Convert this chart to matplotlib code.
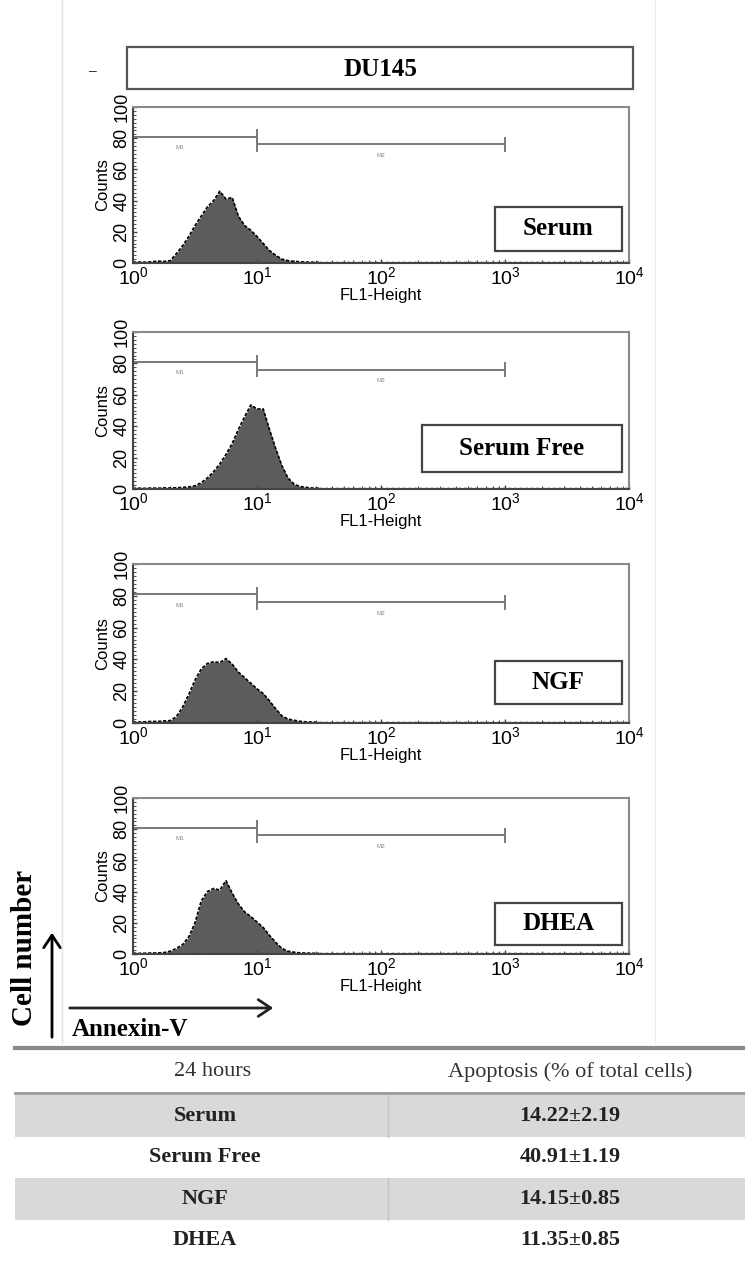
import numpy as np
import matplotlib
matplotlib.use("Agg")
import matplotlib.pyplot as plt
from matplotlib.ticker import FixedLocator, LogFormatterMathtext, MultipleLocator, LogLocator
from matplotlib.patches import Rectangle, FancyArrowPatch

plt.rcParams['font.family'] = ['Liberation Sans', 'DejaVu Sans']
plt.rcParams['mathtext.fontset'] = 'custom'
plt.rcParams['mathtext.rm'] = 'Liberation Sans'
plt.rcParams['mathtext.it'] = 'Liberation Sans'
plt.rcParams['mathtext.default'] = 'regular'

# ---------------- data ----------------
cell_line = "DU145"
conditions = ["Serum", "Serum Free", "NGF", "DHEA"]

# log10(FL1-Height) channel positions
log_fl1 = [0.00, 0.05, 0.10, 0.15, 0.20, 0.25, 0.30, 0.35, 0.40, 0.45,
           0.50, 0.55, 0.60, 0.65, 0.70, 0.75, 0.80, 0.85, 0.90, 0.95,
           1.00, 1.05, 1.10, 1.15, 1.20, 1.25, 1.30, 1.35, 1.40, 1.45, 1.50]

counts_serum = [0.5, 0.6, 0.5, 0.8, 1.2, 1.0, 1.5, 6, 11, 17,
                24, 30, 36, 40, 46, 41, 42, 30, 24, 21,
                17, 12.5, 8, 5, 2.5, 1.5, 1.0, 0.8, 0.6, 0.5, 0.4]
counts_serum_free = [0.4, 0.5, 0.4, 0.6, 0.5, 0.7, 0.6, 0.8, 1.0, 1.3,
                     2, 4, 7, 11, 16, 22, 29, 38, 46, 53.5,
                     51, 51, 38, 26, 15, 7, 3, 1.5, 1.0, 0.6, 0.5]
counts_ngf = [0.5, 0.6, 0.8, 1.0, 1.0, 1.3, 1.5, 4, 10, 18,
              27, 34, 37.5, 38.5, 38, 40.5, 37, 32, 28.5, 25,
              21.5, 18.5, 14, 9, 4.5, 2.5, 1.7, 1.0, 0.7, 0.6, 0.5]
counts_dhea = [0.5, 0.4, 0.5, 0.6, 0.7, 0.9, 1.8, 3.6, 6, 11,
               20, 34, 40, 42, 41, 47, 39, 32, 27, 24,
               20.5, 17, 12, 7.5, 3.6, 1.8, 1.1, 0.7, 0.6, 0.5, 0.4]
all_counts = [counts_serum, counts_serum_free, counts_ngf, counts_dhea]
tail_level = 0.4

# marker gates (start, end, count level)
gate_m1 = (1, 10, 81)
gate_m2 = (10, 1000, 76)

y_ticks = [0, 20, 40, 60, 80, 100]
x_ticks = [1, 10, 100, 1000, 10000]

table_header = ["24 hours", "Apoptosis (% of total cells)"]
table_rows = ["Serum", "Serum Free", "NGF", "DHEA"]
table_values = ["14.22\u00b12.19", "40.91\u00b11.19", "14.15\u00b10.85", "11.35\u00b10.85"]

# ---------------- layout ----------------
W, H = 745, 1273
fig = plt.figure(figsize=(W / 100, H / 100), dpi=100)

def px_axes(x0, y0, x1, y1, **kw):
    return fig.add_axes([x0 / W, 1 - y1 / H, (x1 - x0) / W, (y1 - y0) / H], **kw)

bg = fig.add_axes([0, 0, 1, 1])
bg.set_xlim(0, W)
bg.set_ylim(H, 0)
bg.axis('off')

# faint image border
bg.plot([62, 62], [0, 1043], color='#e2e2e2', lw=1)
bg.plot([655, 655], [0, 1043], color='#ececec', lw=1)

# DU145 header box
bg.add_patch(Rectangle((127, 47), 506, 42, fill=False, ec='#555555', lw=1.6))
bg.text(380, 69, cell_line, ha='center', va='center', fontsize=18,
        fontweight='bold', family='Liberation Serif')
bg.text(93, 71, '\u2013', ha='center', va='center', fontsize=10, color='#333')

panel_tops = [107, 332, 564, 798]
panel_bots = [263, 489, 723, 954]
label_boxes = [(0.73, 0.08, 0.255, 0.28), (0.582, 0.11, 0.403, 0.30),
               (0.73, 0.12, 0.255, 0.27), (0.73, 0.06, 0.255, 0.27)]

for i, cond in enumerate(conditions):
    ax = px_axes(133, panel_tops[i], 629, panel_bots[i])
    ax.set_xscale('log')
    ax.set_xlim(1, 10000)
    ax.set_ylim(0, 100)
    x = [10 ** v for v in log_fl1]
    y = all_counts[i]
    ax.fill_between(x, y, 0, color='#5c5c5c', lw=0)
    ax.plot(x, y, color='black', lw=1.2, ls=(0, (2, 1)))
    ax.plot([x[-1], 10000], [tail_level, tail_level], color='black', lw=1.0, ls=(0, (2, 2)))

    for (g0, g1, gy), lab in [(gate_m1, 'M1'), (gate_m2, 'M2')]:
        ax.plot([g0, g1], [gy, gy], color='#7a7a7a', lw=1.4)
        ax.plot([g0, g0], [gy - 4, gy + 4], color='#7a7a7a', lw=1.4)
        ax.plot([g1, g1], [gy - 4, gy + 4], color='#7a7a7a', lw=1.4)
        xm = np.sqrt(g0 * g1) if lab == 'M2' else 2.4
        ax.text(xm, gy - 7, lab, ha='center', va='center', fontsize=4.5, color='#888')

    for s in ['top', 'right']:
        ax.spines[s].set_color('#8a8a8a')
        ax.spines[s].set_linewidth(1.5)
    for s in ['left', 'bottom']:
        ax.spines[s].set_color('#444444')
        ax.spines[s].set_linewidth(1.5)

    ax.xaxis.set_major_locator(FixedLocator(x_ticks))
    ax.xaxis.set_major_formatter(LogFormatterMathtext())
    ax.xaxis.set_minor_locator(LogLocator(base=10, subs=np.arange(2, 10)))
    ax.xaxis.set_minor_formatter(plt.NullFormatter())
    ax.yaxis.set_major_locator(FixedLocator(y_ticks))
    ax.yaxis.set_minor_locator(MultipleLocator(2.5))
    ax.tick_params(axis='both', which='major', direction='in', length=3, width=1,
                   color='#444', labelsize=14, pad=2)
    ax.tick_params(axis='both', which='minor', direction='in', length=2, width=0.8,
                   color='#555')
    ax.tick_params(axis='y', which='major', labelsize=13, pad=2)
    for lbl in ax.get_yticklabels():
        lbl.set_rotation(90)
        lbl.set_va('center')
    ax.set_xlabel('FL1-Height', fontsize=12, labelpad=0)
    ax.set_ylabel('Counts', fontsize=12, labelpad=2)

    bx, by, bw, bh = label_boxes[i]
    ax.add_patch(Rectangle((bx, by), bw, bh, transform=ax.transAxes, fill=False,
                           ec='#444444', lw=1.6, zorder=5))
    ax.text(bx + bw / 2, by + bh / 2, cond, transform=ax.transAxes, ha='center',
            va='center', fontsize=18, fontweight='bold', family='Liberation Serif', zorder=6)

# axis arrows
bg.add_patch(FancyArrowPatch((52, 1040), (52, 930), arrowstyle='->,head_length=6,head_width=4',
                             lw=2, color='black', mutation_scale=1.5))
bg.add_patch(FancyArrowPatch((67, 1008), (276, 1008), arrowstyle='->,head_length=6,head_width=4',
                             lw=2, color='#222', mutation_scale=1.5))
bg.text(25, 948, 'Cell number', rotation=90, ha='center', va='center', fontsize=21,
        fontweight='bold', family='Liberation Serif')
bg.text(72, 1030, 'Annexin-V', ha='left', va='center', fontsize=18,
        fontweight='bold', family='Liberation Serif')

# ---------------- table ----------------
tx0, tx1, tdiv = 15, 745, 388
bg.plot([tx0, tx1], [1048, 1048], color='#8a8a8a', lw=3)
bg.plot([tx0, tx1], [1093, 1093], color='#999999', lw=2)
bg.text(213, 1072, table_header[0], ha='center', va='center', fontsize=16,
        family='Liberation Serif', color='#333')
bg.text(570, 1072, table_header[1], ha='center', va='center', fontsize=16,
        family='Liberation Serif', color='#333')
row_top = 1095
row_h = 41.5
for j, (r, v) in enumerate(zip(table_rows, table_values)):
    y0 = row_top + j * row_h
    if j % 2 == 0:
        bg.add_patch(Rectangle((tx0, y0), tx1 - tx0, row_h, color='#d9d9d9', lw=0))
        bg.plot([tdiv, tdiv], [y0, y0 + row_h], color='#c4c4c4', lw=1)
    bg.text(205, y0 + row_h / 2, r, ha='center', va='center', fontsize=16,
            fontweight='bold', family='Liberation Serif', color='#222')
    bg.text(570, y0 + row_h / 2, v, ha='center', va='center', fontsize=16,
            fontweight='bold', family='Liberation Serif', color='#222')

fig.savefig('out.png', dpi=100)
